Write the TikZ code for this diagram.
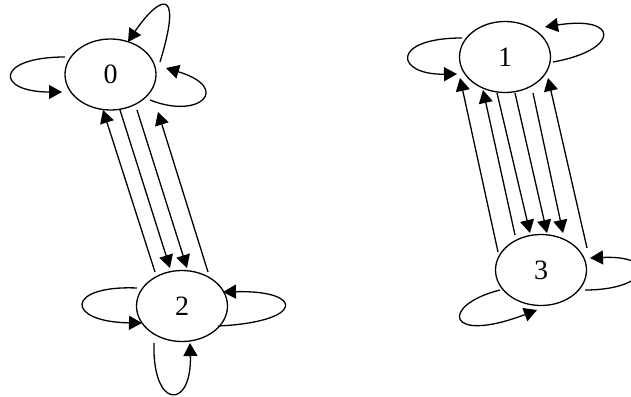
\documentclass[tikz,border=0pt]{standalone}
\usepackage{fontspec}
\setmainfont{Liberation Serif}
\usetikzlibrary{arrows.meta,shapes.geometric}
\begin{document}
\begin{tikzpicture}[x=1pt,y=-1pt,
  state/.style={draw,ellipse,line width=1.3pt,minimum width=91pt,minimum height=71pt,inner sep=0pt,font=\fontsize{28}{32}\selectfont},
  arr/.style={line width=1.3pt,-{Triangle[length=13pt,width=14pt]}}]
\useasboundingbox (0,0) rectangle (631,396);
\node[state] (n0) at (110.5,74.5) {0};
\node[state] (n2) at (182,306) {2};
\node[state] (n1) at (505,57) {1};
\node[state] (n3) at (541,270) {3};
% 0 <-> 2 edges
\coordinate (p1s) at (155,272); \coordinate (p1e) at (103,110);
\coordinate (p2s) at (120,110); \coordinate (p2e) at (170,268);
\coordinate (p3s) at (137,110); \coordinate (p3e) at (187,268);
\coordinate (p4s) at (208,272); \coordinate (p4e) at (158,112);
\draw[arr] (p1s) -- (p1e);
\draw[arr] (p2s) -- (p2e);
\draw[arr] (p3s) -- (p3e);
\draw[arr] (p4s) -- (p4e);
% 1 <-> 3 edges
\coordinate (q1s) at (498,252); \coordinate (q1e) at (460,78);
\coordinate (q2s) at (515,235); \coordinate (q2e) at (483,90);
\coordinate (q3s) at (497,93); \coordinate (q3e) at (530,233);
\coordinate (q4s) at (515,93); \coordinate (q4e) at (547,233);
\coordinate (q5s) at (533,93); \coordinate (q5e) at (563,233);
\coordinate (q6s) at (587,248); \coordinate (q6e) at (548,78);
\draw[arr] (q1s) -- (q1e);
\draw[arr] (q2s) -- (q2e);
\draw[arr] (q3s) -- (q3e);
\draw[arr] (q4s) -- (q4e);
\draw[arr] (q5s) -- (q5e);
\draw[arr] (q6s) -- (q6e);
% loops on 0
\coordinate (l0as) at (160,62); \coordinate (l0ae) at (128,42);
\draw[arr] (l0as) .. controls (185,-20) and (156,0) .. (l0ae);
\coordinate (l0bs) at (65,57); \coordinate (l0be) at (62,92);
\draw[arr] (l0bs) .. controls (-5,57) and (-5,92) .. (l0be);
\coordinate (l0cs) at (150,100); \coordinate (l0ce) at (166,68);
\draw[arr] (l0cs) .. controls (200,120) and (232,88) .. (l0ce);
% loops on 2
\coordinate (l2as) at (137,288); \coordinate (l2ae) at (142,323);
\draw[arr] (l2as) .. controls (65,285) and (65,322) .. (l2ae);
\coordinate (l2bs) at (218,326); \coordinate (l2be) at (223,292);
\draw[arr] (l2bs) .. controls (305,322) and (305,290) .. (l2be);
\coordinate (l2cs) at (154,343); \coordinate (l2ce) at (190,343);
\draw[arr] (l2cs) .. controls (152,410) and (192,410) .. (l2ce);
% loops on 1
\coordinate (l1as) at (462,38); \coordinate (l1ae) at (457,74);
\draw[arr] (l1as) .. controls (390,38) and (395,75) .. (l1ae);
\coordinate (l1bs) at (553,62); \coordinate (l1be) at (545,27);
\draw[arr] (l1bs) .. controls (620,50) and (620,15) .. (l1be);
% loops on 3
\coordinate (l3as) at (585,290); \coordinate (l3ae) at (590,258);
\draw[arr] (l3as) .. controls (650,290) and (660,255) .. (l3ae);
\coordinate (l3bs) at (500,290); \coordinate (l3be) at (537,310);
\draw[arr] (l3bs) .. controls (440,305) and (445,345) .. (l3be);
\end{tikzpicture}
\end{document}
